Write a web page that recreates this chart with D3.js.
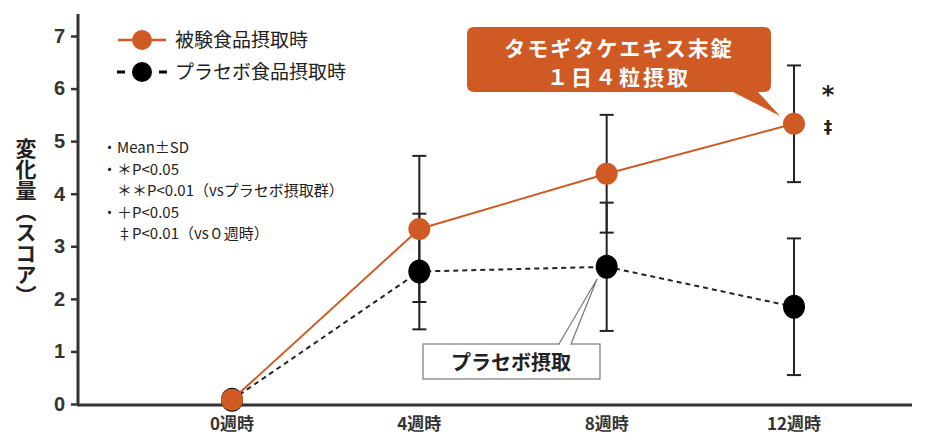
<!DOCTYPE html>
<html>
<head>
<meta charset="utf-8">
<script src="https://cdn.jsdelivr.net/npm/d3@7"></script>
<style>
body { margin: 0; background: #fff; }
text { font-family: "Noto Sans CJK JP", "Noto Sans", sans-serif; }
</style>
</head>
<body>
<div id="chart"></div>
<script>
// data
var weeks = ["0週時", "4週時", "8週時", "12週時"];
var testMean = [0.08, 3.33, 4.38, 5.33];
var testSD = [0, 1.39, 1.12, 1.11];
var placeboMean = [0.08, 2.52, 2.61, 1.85];
var placeboSD = [0, 1.1, 1.22, 1.3];
var yTicks = [0, 1, 2, 3, 4, 5, 6, 7];
var notes = ["・Mean±SD", "・＊P<0.05", "　＊＊P<0.01（vsプラセボ摂取群）", "・＋P<0.05", "　‡P<0.01（vs０週時）"];

var orange = "#cf5a24";
var dark = "#222";

var svg = d3.select("#chart").append("svg")
  .attr("width", 930)
  .attr("height", 442);

var x = d3.scalePoint().domain(weeks).range([232, 794]);
var y = d3.scaleLinear().domain([0, 7]).range([404, 36]);

// y axis
var yAxis = svg.append("g")
  .attr("transform", "translate(78,0)")
  .call(d3.axisLeft(y).tickValues(yTicks).tickFormat(d3.format("d")).tickSize(7).tickPadding(6));
yAxis.select(".domain").remove();
yAxis.selectAll("line").attr("stroke", "#333").attr("stroke-width", 2.5);
yAxis.selectAll("text")
  .style("font-family", "Liberation Sans, Arial, sans-serif")
  .style("font-size", "20px").style("font-weight", "bold").attr("fill", "#333");

svg.append("line")
  .attr("x1", 78).attr("x2", 78).attr("y1", 14).attr("y2", 405)
  .attr("stroke", "#333").attr("stroke-width", 3);

// x axis
svg.append("line")
  .attr("x1", 77).attr("x2", 912).attr("y1", 405).attr("y2", 405)
  .attr("stroke", "#333").attr("stroke-width", 3);
svg.selectAll(".xl").data(weeks).enter().append("text")
  .attr("x", function(d) { return x(d); })
  .attr("y", 430)
  .attr("text-anchor", "middle")
  .style("font-size", "17px").style("font-weight", "bold").attr("fill", "#333")
  .text(function(d) { return d; });

// y label (vertical)
svg.append("text")
  .attr("x", 26).attr("y", 222)
  .attr("text-anchor", "middle")
  .style("writing-mode", "vertical-rl")
  .style("font-size", "21px").style("font-weight", "bold").attr("fill", "#222")
  .text("変化量（スコア）");

// error bars
function errorBars(mean, sd) {
  var g = svg.append("g").attr("stroke", dark).attr("stroke-width", 2);
  weeks.forEach(function(w, i) {
    if (sd[i] === 0) return;
    var cx = x(w);
    g.append("line").attr("x1", cx).attr("x2", cx)
      .attr("y1", y(mean[i] + sd[i])).attr("y2", y(mean[i] - sd[i]));
    [mean[i] + sd[i], mean[i] - sd[i]].forEach(function(v) {
      g.append("line").attr("x1", cx - 7).attr("x2", cx + 7)
        .attr("y1", y(v)).attr("y2", y(v));
    });
  });
}
errorBars(placeboMean, placeboSD);
errorBars(testMean, testSD);

var line = d3.line()
  .x(function(d, i) { return x(weeks[i]); })
  .y(function(d) { return y(d); });

// placebo
svg.append("path").datum(placeboMean)
  .attr("d", line).attr("fill", "none")
  .attr("stroke", dark).attr("stroke-width", 2).attr("stroke-dasharray", "5,4");
svg.selectAll(".pm").data(placeboMean).enter().append("ellipse")
  .attr("cx", function(d, i) { return x(weeks[i]); })
  .attr("cy", function(d) { return y(d); })
  .attr("rx", 11).attr("ry", 12).attr("fill", "#000");

// test food
svg.append("path").datum(testMean)
  .attr("d", line).attr("fill", "none")
  .attr("stroke", orange).attr("stroke-width", 2);
svg.selectAll(".tm").data(testMean).enter().append("circle")
  .attr("cx", function(d, i) { return x(weeks[i]); })
  .attr("cy", function(d) { return y(d); })
  .attr("r", 11).attr("fill", orange);

// significance marks
svg.append("text").attr("x", 828).attr("y", 103).attr("text-anchor", "middle")
  .style("font-family", "DejaVu Sans, sans-serif")
  .style("font-size", "24px").style("font-weight", "bold").attr("fill", "#222").text("*");
svg.append("text").attr("x", 828).attr("y", 133).attr("text-anchor", "middle")
  .style("font-family", "DejaVu Sans, sans-serif")
  .style("font-size", "17px").style("font-weight", "bold").attr("fill", "#222").text("‡");

// legend
svg.append("line").attr("x1", 118).attr("x2", 166).attr("y1", 40).attr("y2", 40)
  .attr("stroke", orange).attr("stroke-width", 2.5);
svg.append("circle").attr("cx", 142).attr("cy", 40).attr("r", 10).attr("fill", orange);
svg.append("text").attr("x", 175).attr("y", 47)
  .style("font-size", "19px").attr("fill", "#222").text("被験食品摂取時");

svg.append("line").attr("x1", 117).attr("x2", 167).attr("y1", 72).attr("y2", 72)
  .attr("stroke", "#000").attr("stroke-width", 3).attr("stroke-dasharray", "8,34");
svg.append("circle").attr("cx", 142).attr("cy", 72).attr("r", 10).attr("fill", "#000");
svg.append("text").attr("x", 175).attr("y", 79)
  .style("font-size", "19px").attr("fill", "#222").text("プラセボ食品摂取時");

// notes
svg.selectAll(".note").data(notes).enter().append("text")
  .attr("x", 102)
  .attr("y", function(d, i) { return 153 + i * 21.5; })
  .style("font-size", "15px").attr("fill", "#222")
  .attr("xml:space", "preserve")
  .text(function(d) { return d; });

// orange callout
svg.append("path")
  .attr("d", "M474,27 H764 Q771,27 771,34 V85 Q771,92 764,92 H758 L780,116 L733,92 H474 Q467,92 467,85 V34 Q467,27 474,27 Z")
  .attr("fill", orange);
svg.append("text").attr("x", 619).attr("y", 56).attr("text-anchor", "middle")
  .style("font-size", "21px").style("font-weight", "bold").attr("fill", "#fff")
  .attr("letter-spacing", "2px").text("タモギタケエキス末錠");
svg.append("text").attr("x", 619).attr("y", 85).attr("text-anchor", "middle")
  .style("font-size", "21px").style("font-weight", "bold").attr("fill", "#fff")
  .attr("letter-spacing", "3px").text("１日４粒摂取");

// placebo callout
svg.append("rect").attr("x", 423).attr("y", 344).attr("width", 177).attr("height", 35)
  .attr("fill", "#fff").attr("stroke", "#777").attr("stroke-width", 1.2);
svg.append("path")
  .attr("d", "M559,344 L597,279 L571,344")
  .attr("fill", "#fff").attr("stroke", "#777").attr("stroke-width", 1.2);
svg.append("line").attr("x1", 560).attr("x2", 570).attr("y1", 344).attr("y2", 344)
  .attr("stroke", "#fff").attr("stroke-width", 2);
svg.append("text").attr("x", 511).attr("y", 370).attr("text-anchor", "middle")
  .style("font-size", "20px").style("font-weight", "bold").attr("fill", "#222")
  .text("プラセボ摂取");
</script>
</body>
</html>
